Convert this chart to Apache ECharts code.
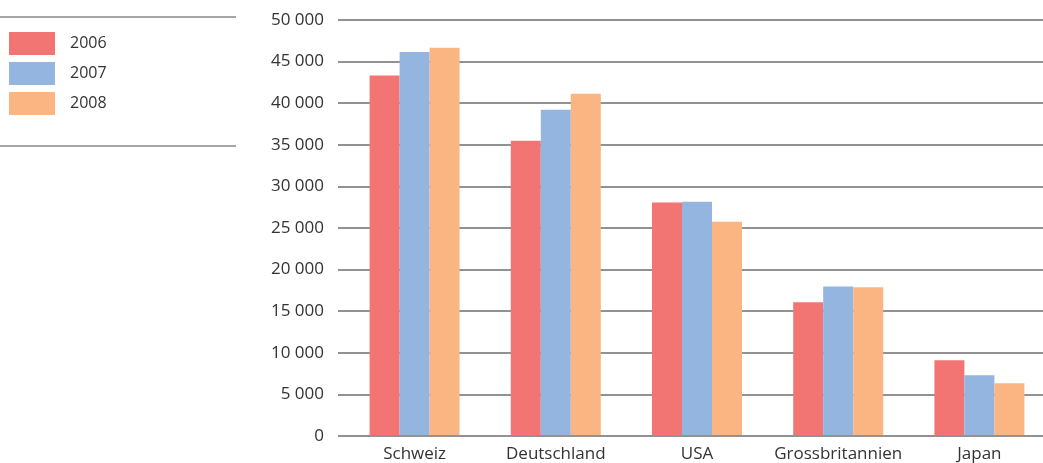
<!DOCTYPE html>
<html>
<head>
<meta charset="utf-8">
<script src="https://cdn.jsdelivr.net/npm/echarts@6/dist/echarts.min.js"></script>
<style>
  html, body { margin: 0; padding: 0; background: #fff; overflow: hidden; }
  #chart { width: 1050px; height: 463px; }
</style>
</head>
<body>
<div id="chart"></div>
<script>
// Countries on the category axis
const countries = ['Schweiz', 'Deutschland', 'USA', 'Grossbritannien', 'Japan'];
// Values per year
const years = ['2006', '2007', '2008'];
const values2006 = [43300, 35450, 28000, 16000, 9000];
const values2007 = [46150, 39200, 28100, 17900, 7200];
const values2008 = [46650, 41100, 25700, 17800, 6250];
// Value axis range and step
const yMin = 0;
const yMax = 50000;
const yStep = 5000;

const colors = ['#F27573', '#93B5E0', '#FAB583'];
const font = '"Open Sans", "Noto Sans", sans-serif';

function fmt(v) {
  return String(v).replace(/\B(?=(\d{3})+(?!\d))/g, ' ');
}

const chart = echarts.init(document.getElementById('chart'), null, { renderer: 'canvas' });

const seriesData = [values2006, values2007, values2008];

chart.setOption({
  animation: false,
  color: colors,
  legend: {
    orient: 'vertical',
    left: 9,
    top: 32,
    padding: 0,
    itemWidth: 46,
    itemHeight: 23,
    itemGap: 7,
    icon: 'rect',
    data: years,
    textStyle: { fontFamily: font, fontSize: 16, color: '#333', padding: [4, 0, 0, 10] }
  },
  graphic: [
    { type: 'line', shape: { x1: 0, y1: 17, x2: 236, y2: 17 }, style: { stroke: '#888', lineWidth: 1.5 } },
    { type: 'line', shape: { x1: 0, y1: 146, x2: 236, y2: 146 }, style: { stroke: '#888', lineWidth: 1.5 } }
  ],
  grid: [
    // grid for the horizontal rules and value labels
    { left: 338, right: 0, top: 20, height: 416 },
    // grid for the bars
    { left: 344, right: 0, top: 20, height: 416 }
  ],
  xAxis: [
    { type: 'value', gridIndex: 0, show: false, min: 0, max: 1 },
    {
      type: 'category', gridIndex: 1, data: countries,
      axisLine: { show: false }, axisTick: { show: false },
      axisLabel: { interval: 0, fontFamily: font, fontSize: 17, color: '#333', margin: 11 }
    }
  ],
  yAxis: [
    {
      type: 'value', gridIndex: 0, min: yMin, max: yMax, interval: yStep,
      axisLine: { show: false }, axisTick: { show: false },
      axisLabel: { fontFamily: font, fontSize: 17, color: '#333', margin: 14, formatter: fmt },
      splitLine: { lineStyle: { color: '#6e6e6e', width: 1.5 } }
    },
    {
      type: 'value', gridIndex: 1, min: yMin, max: yMax, interval: yStep, show: false,
      splitLine: { show: false }
    }
  ],
  series: years.map((y, i) => ({
    name: y,
    type: 'bar',
    xAxisIndex: 1,
    yAxisIndex: 1,
    data: seriesData[i],
    barWidth: 30,
    barGap: '0%',
    itemStyle: { color: colors[i] }
  }))
});
</script>
</body>
</html>
